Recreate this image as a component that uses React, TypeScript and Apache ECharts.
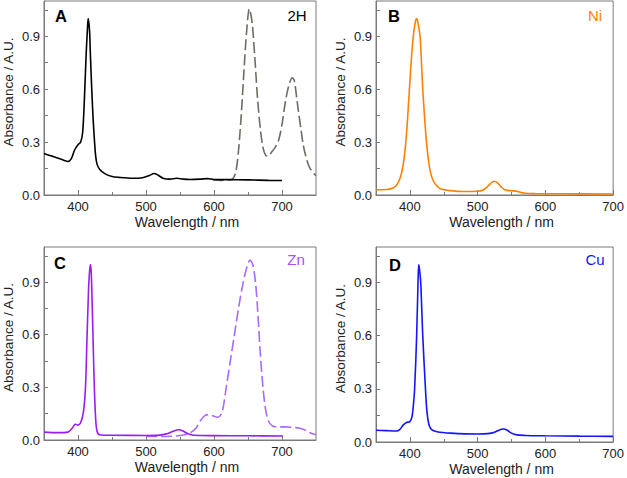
import React, { useEffect, useRef } from "react";
import * as echarts from "echarts";

// Panel A (2H) – solid Soret/visible spectrum
const wlA = [350, 360, 370, 380, 385, 390, 395, 400, 404, 407, 410, 412, 414, 415, 417, 418, 420, 422, 424, 426, 428, 432, 440, 450, 460, 480, 495, 505, 512, 518, 525, 535, 545, 555, 565, 580, 590, 600, 620, 650, 680, 700];
const absA = [0.235, 0.222, 0.21, 0.196, 0.19, 0.205, 0.255, 0.285, 0.3, 0.36, 0.6, 0.8, 0.95, 1.0, 0.93, 0.82, 0.62, 0.45, 0.32, 0.22, 0.175, 0.145, 0.12, 0.105, 0.1, 0.095, 0.098, 0.11, 0.122, 0.112, 0.095, 0.09, 0.095, 0.09, 0.088, 0.09, 0.093, 0.088, 0.087, 0.086, 0.083, 0.082];
// Panel A (2H) – dashed Q-band region
const wlA2 = [598, 610, 620, 627, 632, 636, 640, 644, 648, 652, 656, 660, 664, 668, 672, 676, 680, 685, 690, 695, 700, 705, 710, 715, 718, 722, 724, 728, 731, 734, 740, 747, 750];
const absA2 = [0.085, 0.083, 0.085, 0.09, 0.13, 0.25, 0.45, 0.7, 0.93, 1.055, 0.98, 0.78, 0.55, 0.38, 0.27, 0.225, 0.22, 0.245, 0.27, 0.31, 0.4, 0.53, 0.62, 0.665, 0.65, 0.54, 0.48, 0.37, 0.29, 0.235, 0.16, 0.12, 0.11];

// Panel B (Ni)
const wlB = [350, 365, 375, 381, 386, 390, 393, 396, 399, 402, 405, 408, 410, 412, 415, 417, 419, 421, 423, 425, 428, 431, 434, 438, 445, 460, 480, 500, 508, 514, 519, 524, 529, 535, 541, 550, 557, 563, 570, 585, 620, 700];
const absB = [0.03, 0.031, 0.04, 0.06, 0.1, 0.17, 0.26, 0.4, 0.58, 0.76, 0.9, 0.98, 1.0, 0.975, 0.9, 0.76, 0.6, 0.48, 0.37, 0.28, 0.18, 0.12, 0.085, 0.06, 0.035, 0.025, 0.02, 0.021, 0.028, 0.045, 0.065, 0.078, 0.07, 0.045, 0.028, 0.024, 0.022, 0.015, 0.01, 0.008, 0.007, 0.006];

// Panel C (Zn) – solid
const wlC = [350, 370, 385, 392, 396, 400, 404, 408, 411, 413, 415, 416, 418, 419, 420, 422, 424, 426, 428, 432, 450, 500, 520, 530, 540, 548, 555, 562, 570, 600, 650, 700];
const absC = [0.045, 0.042, 0.045, 0.07, 0.09, 0.085, 0.1, 0.16, 0.3, 0.55, 0.8, 0.9, 1.0, 0.98, 0.9, 0.6, 0.3, 0.12, 0.05, 0.03, 0.027, 0.026, 0.028, 0.035, 0.05, 0.058, 0.05, 0.035, 0.027, 0.025, 0.024, 0.023];
// Panel C (Zn) – dashed
const wlC2 = [500, 520, 540, 555, 565, 573, 580, 587, 594, 600, 606, 612, 618, 624, 630, 636, 642, 648, 653, 657, 661, 664, 668, 672, 676, 680, 686, 695, 705, 715, 725, 735, 742, 750];
const absC2 = [0.02, 0.02, 0.022, 0.028, 0.04, 0.065, 0.11, 0.14, 0.145, 0.135, 0.13, 0.16, 0.3, 0.45, 0.6, 0.75, 0.88, 0.98, 1.025, 1.0, 0.9, 0.75, 0.5, 0.3, 0.17, 0.11, 0.08, 0.075, 0.075, 0.072, 0.068, 0.055, 0.04, 0.03];

// Panel D (Cu)
const wlD = [350, 365, 380, 385, 390, 395, 400, 403, 405, 407, 410, 412, 413, 414, 416, 419, 423, 425, 428, 432, 440, 460, 500, 515, 525, 532, 538, 543, 550, 558, 570, 600, 650, 700];
const absD = [0.066, 0.064, 0.062, 0.07, 0.095, 0.11, 0.115, 0.14, 0.2, 0.3, 0.6, 0.9, 1.0, 0.98, 0.9, 0.6, 0.3, 0.18, 0.1, 0.07, 0.058, 0.05, 0.045, 0.047, 0.055, 0.068, 0.073, 0.068, 0.05, 0.04, 0.037, 0.035, 0.033, 0.032];

const xMajor = [400, 500, 600, 700];
const xMinor = [450, 550, 650];
const yLabels = [0, 0.3, 0.6, 0.9];
const yTicks = [0, 0.15, 0.3, 0.45, 0.6, 0.75, 0.9, 1.05];

const panelLetters = ["A", "B", "C", "D"];
const panelNames = ["2H", "Ni", "Zn", "Cu"];
const panelColors = ["#000000", "#ff8000", "#9a1cf5", "#1414ff"];

const FONT = "'Liberation Sans', Arial, Helvetica, sans-serif";
const AXIS_GRAY = "#7a7a7a";

const zip = (xs: number[], ys: number[]) => xs.map((x, i) => [x, ys[i]]);

export default function App() {
  const ref = useRef<HTMLDivElement>(null);
  useEffect(() => {
    if (!ref.current) return;
    const chart = echarts.init(ref.current, null, { renderer: "svg" });

    const grids = [
      { left: 43, top: 1, width: 273, height: 194, xmax: 750 },
      { left: 376, top: 1, width: 239, height: 194, xmax: 700 },
      { left: 43, top: 247, width: 273, height: 193, xmax: 750 },
      { left: 376, top: 247, width: 239, height: 195, xmax: 700 },
    ];

    const xAxes: any[] = [];
    const yAxes: any[] = [];
    grids.forEach((g, i) => {
      xAxes.push({
        type: "value",
        gridIndex: i,
        position: "bottom",
        min: 350,
        max: g.xmax,
        name: "Wavelength / nm",
        nameLocation: "middle",
        nameGap: 20,
        nameTextStyle: { fontSize: 14, color: "#222", fontFamily: FONT, padding: [0, 0, 0, 14] },
        axisLine: { show: true, lineStyle: { color: AXIS_GRAY, width: 1 } },
        axisTick: { show: true, inside: true, length: 5, customValues: xMajor, lineStyle: { color: AXIS_GRAY } },
        axisLabel: { customValues: xMajor, fontSize: 13, color: "#222", fontFamily: FONT, margin: 5 },
        splitLine: { show: false },
      });
      xAxes.push({
        type: "value",
        gridIndex: i,
        position: "bottom",
        min: 350,
        max: g.xmax,
        axisLine: { show: false },
        axisTick: { show: true, inside: true, length: 3, customValues: xMinor, lineStyle: { color: AXIS_GRAY } },
        axisLabel: { show: false },
        splitLine: { show: false },
      });
      yAxes.push({
        type: "value",
        gridIndex: i,
        min: 0,
        max: 1.1,
        name: "Absorbance / A.U.",
        nameLocation: "middle",
        nameGap: 29,
        nameTextStyle: { fontSize: 13.5, color: "#222", fontFamily: FONT, padding: [0, 0, 0, 12] },
        axisLine: { show: true, lineStyle: { color: AXIS_GRAY, width: 1 } },
        axisTick: { show: true, inside: true, length: 4, customValues: yTicks, lineStyle: { color: AXIS_GRAY } },
        axisLabel: {
          customValues: yLabels,
          fontSize: 13,
          color: "#222",
          fontFamily: FONT,
          margin: 4,
          formatter: (v: number) => v.toFixed(1),
        },
        splitLine: { show: false },
      });
    });

    const line = (xi: number, yi: number, data: number[][], color: string, dashed = false) => ({
      type: "line",
      xAxisIndex: xi,
      yAxisIndex: yi,
      data,
      smooth: 0.3,
      showSymbol: false,
      symbol: "none",
      clip: true,
      lineStyle: { color, width: 1.6, type: dashed ? [11, 4] : "solid" },
      z: dashed ? 2 : 3,
    });

    const series = [
      line(0, 0, zip(wlA2, absA2), "#6d6d62", true),
      line(0, 0, zip(wlA, absA), panelColors[0]),
      line(2, 1, zip(wlB, absB), panelColors[1]),
      line(4, 2, zip(wlC2, absC2), "#a66bff", true),
      line(4, 2, zip(wlC, absC), panelColors[2]),
      line(6, 3, zip(wlD, absD), panelColors[3]),
    ];

    const letterPos = [
      [61, 16],
      [394, 16],
      [60, 263],
      [395, 265],
    ];
    const namePos = [
      [297, 15],
      [595, 15],
      [296, 259],
      [595, 259],
    ];
    const nameColors = ["#000000", "#ff8000", "#a64dff", "#1414ff"];

    const graphic: any[] = [];
    panelLetters.forEach((l, i) => {
      graphic.push({
        type: "text",
        x: letterPos[i][0],
        y: letterPos[i][1],
        style: {
          text: l,
          fontSize: 16.5,
          fontWeight: "bold",
          fontFamily: FONT,
          fill: "#000",
          textAlign: "center",
          textVerticalAlign: "middle",
        },
        z: 10,
      });
      graphic.push({
        type: "text",
        x: namePos[i][0],
        y: namePos[i][1],
        style: {
          text: panelNames[i],
          fontSize: 15,
          fontFamily: FONT,
          fill: nameColors[i],
          textAlign: "center",
          textVerticalAlign: "middle",
        },
        z: 10,
      });
    });

    chart.setOption({
      animation: false,
      backgroundColor: "#ffffff",
      grid: grids.map((g) => ({
        left: g.left,
        top: g.top,
        width: g.width,
        height: g.height,
        show: true,
        borderColor: AXIS_GRAY,
        borderWidth: 1,
        backgroundColor: "transparent",
        containLabel: false,
      })),
      xAxis: xAxes,
      yAxis: yAxes,
      series,
      graphic,
    });

    return () => chart.dispose();
  }, []);

  return (
    <div
      ref={ref}
      style={{ position: "absolute", left: 0, top: 0, width: 627, height: 478 }}
    />
  );
}
